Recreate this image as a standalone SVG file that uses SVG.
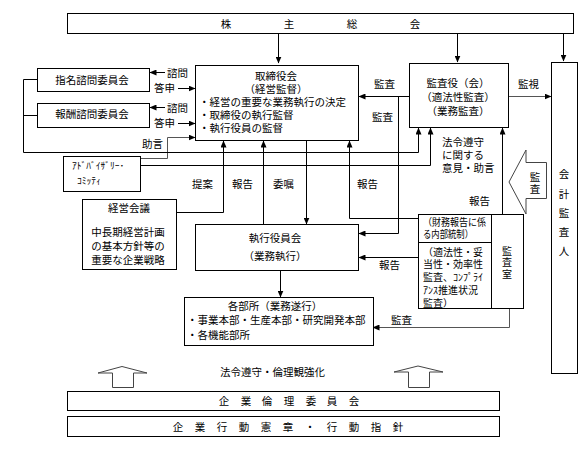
<svg xmlns="http://www.w3.org/2000/svg" width="586" height="449" viewBox="0 0 586 449">
<style>
.b{fill:#fff;stroke:#000;stroke-width:1}
.c{fill:none;stroke:#000;stroke-width:1}
.g{fill:none;stroke:#555;stroke-width:1}
.h{fill:#fff;stroke:#444;stroke-width:1}
text{font-family:"Noto Sans CJK JP","Noto Sans",sans-serif;font-size:10.5px;fill:#000;dominant-baseline:central}
.m{text-anchor:middle}
.s{font-size:9.5px}
.t{font-size:10px}
</style>
<defs>
<marker id="a" markerUnits="userSpaceOnUse" markerWidth="7" markerHeight="6" refX="6.5" refY="3" orient="auto">
<path d="M0,0 L7,3 L0,6 z" fill="#000"/>
</marker>
</defs>
<rect width="586" height="449" fill="#fff"/>

<g id="connectors">
<path class="c" d="M278.5,33 V63" marker-end="url(#a)"/>
<path class="c" d="M457.5,33 V62" marker-end="url(#a)"/>
<path class="c" d="M563.5,33 V61" marker-end="url(#a)"/>
<path class="c" d="M165,72.5 H150" marker-end="url(#a)"/>
<path class="c" d="M178,88.5 H195" marker-end="url(#a)"/>
<path class="c" d="M165,107.5 H150" marker-end="url(#a)"/>
<path class="c" d="M178,123.5 H195" marker-end="url(#a)"/>
<path class="g" d="M140,158.5 H167.5 V137.5 H195" marker-end="url(#a)"/>
<path class="c" d="M37,79.5 H23.5 V152.5 H418.5 V128" marker-end="url(#a)"/>
<path class="c" d="M37,115.5 H23.5"/>
<path class="c" d="M140,165.5 H430.5 V128" marker-end="url(#a)"/>
<path class="c" d="M176,212.5 H223.5 V141" marker-end="url(#a)"/>
<path class="c" d="M263.5,224 V141" marker-end="url(#a)"/>
<path class="c" d="M306.5,140 V224" marker-end="url(#a)"/>
<path class="c" d="M418,218.5 H349.5 V141" marker-end="url(#a)"/>
<path class="c" d="M409,96.5 H359" marker-end="url(#a)"/>
<path class="c" d="M398.5,96.5 V233.5 H359" marker-end="url(#a)"/>
<path class="g" d="M508,96.5 H551" marker-end="url(#a)"/>
<path class="c" d="M502.5,214 V128" marker-end="url(#a)"/>
<path class="c" d="M418,257.5 H359" marker-end="url(#a)"/>
<path class="c" d="M280.5,270 V297" marker-end="url(#a)"/>
<path class="g" d="M509.5,308 V327.5 H373" marker-end="url(#a)"/>
</g>

<g id="shareholders">
<rect class="b" x="67.5" y="13.5" width="506" height="20"/>
<text class="m" x="226 289 352 415" y="23">株主総会</text>
</g>

<g id="board">
<rect class="b" x="195.5" y="65.5" width="163" height="75"/>
<text class="m" x="276" y="75">取締役会</text>
<text class="m" x="276" y="88">（経営監督）</text>
<text x="199" y="101">・経営の重要な業務執行の決定</text>
<text x="199" y="114">・取締役の執行監督</text>
<text x="199" y="127">・執行役員の監督</text>
</g>

<g id="nomination">
<rect class="b" x="37.5" y="68.5" width="112" height="23"/>
<text class="m" x="92" y="79">指名諮問委員会</text>
</g>
<g id="compensation">
<rect class="b" x="37.5" y="103.5" width="112" height="24"/>
<text class="m" x="92" y="113">報酬諮問委員会</text>
</g>

<g id="advisory">
<rect class="b" x="63.5" y="156.5" width="77" height="35"/>
<text x="72" y="165" class="s">ｱﾄﾞﾊﾞｲｻﾞﾘｰ･</text>
<text x="77" y="180" class="s">ｺﾐｯﾃｨ</text>
</g>

<g id="mgmt-meeting">
<rect class="b" x="82.5" y="199.5" width="94" height="70"/>
<text class="m" x="129" y="207">経営会議</text>
<text class="m" x="128" y="231">中長期経営計画</text>
<text class="m" x="128" y="245">の基本方針等の</text>
<text class="m" x="128" y="259">重要な企業戦略</text>
</g>

<g id="auditors">
<rect class="b" x="409.5" y="63.5" width="99" height="64"/>
<text class="m" x="458" y="82">監査役（会）</text>
<text class="m" x="458" y="96">（適法性監査）</text>
<text class="m" x="458" y="110">（業務監査）</text>
</g>

<g id="accounting-auditor">
<rect class="b" x="551.5" y="62.5" width="26" height="311"/>
<text class="m" x="564" y="173">会</text>
<text class="m" x="564" y="193">計</text>
<text class="m" x="564" y="212">監</text>
<text class="m" x="564" y="231">査</text>
<text class="m" x="564" y="250">人</text>
</g>

<g id="exec-committee">
<rect class="b" x="195.5" y="224.5" width="163" height="46"/>
<text class="m" x="275" y="237">執行役員会</text>
<text class="m" x="275" y="255">（業務執行）</text>
</g>

<g id="audit-office">
<rect class="b" x="418.5" y="214.5" width="105" height="94"/>
<path class="c" d="M491.5,214.5 V308.5 M418.5,242.5 H491.5"/>
<text class="t" x="423" y="221" textLength="63" lengthAdjust="spacingAndGlyphs">（財務報告に係</text>
<text class="t" x="423" y="233" textLength="50" lengthAdjust="spacingAndGlyphs">る内部統制）</text>
<text class="t" x="423" y="251">（適法性・妥</text>
<text class="t" x="423" y="263">当性・効率性</text>
<text class="t" x="423" y="276">監査、ｺﾝﾌﾟﾗｲ</text>
<text class="t" x="423" y="289">ｱﾝｽ推進状況</text>
<text class="t" x="423" y="302">監査）</text>
<text class="m t" x="507" y="250">監</text>
<text class="m t" x="507" y="261">査</text>
<text class="m t" x="507" y="273">室</text>
</g>

<g id="departments">
<rect class="b" x="184.5" y="297.5" width="189" height="48"/>
<text class="m" x="275" y="305">各部所（業務遂行）</text>
<text x="187" y="319">・事業本部・生産本部・研究開発本部</text>
<text x="187" y="334">・各機能部所</text>
</g>

<g id="ethics-committee">
<rect class="b" x="67.5" y="391.5" width="432" height="19"/>
<text class="m" x="224 246 267 289 311 332 354" y="400">企業倫理委員会</text>
</g>
<g id="charter">
<rect class="b" x="67.5" y="416.5" width="432" height="20"/>
<text class="m" x="178 200 222 244 266 288 310 332 354 376 398" y="426">企業行動憲章・行動指針</text>
</g>

<g id="labels">
<text x="167" y="72">諮問</text>
<text x="154" y="87">答申</text>
<text x="167" y="107">諮問</text>
<text x="154" y="122">答申</text>
<text x="142" y="143">助言</text>
<text x="374" y="83">監査</text>
<text x="372" y="116">監査</text>
<text x="518" y="83">監視</text>
<text x="442" y="141">法令遵守</text>
<text x="442" y="154">に関する</text>
<text x="442" y="167">意見・助言</text>
<text x="469" y="200">報告</text>
<text x="192" y="183">提案</text>
<text x="232" y="183">報告</text>
<text x="273" y="183">委嘱</text>
<text x="357" y="183">報告</text>
<text x="379" y="264">報告</text>
<text x="391" y="319">監査</text>
<text x="220" y="371">法令遵守・倫理観強化</text>
</g>

<g id="hollow-arrows">
<polygon class="h" points="509,182 526,150 526,162.5 546.5,162.5 546.5,198.5 526,198.5 526,214"/>
<text class="m" x="535" y="176">監</text>
<text class="m" x="535" y="188">査</text>
<polygon class="h" points="98,373 122,366.5 147,373 133.5,373 133.5,387.5 112.5,387.5 112.5,373"/>
<polygon class="h" points="394,372 418,366 443,372 429.5,372 429.5,387.5 408.5,387.5 408.5,372"/>
</g>
</svg>
